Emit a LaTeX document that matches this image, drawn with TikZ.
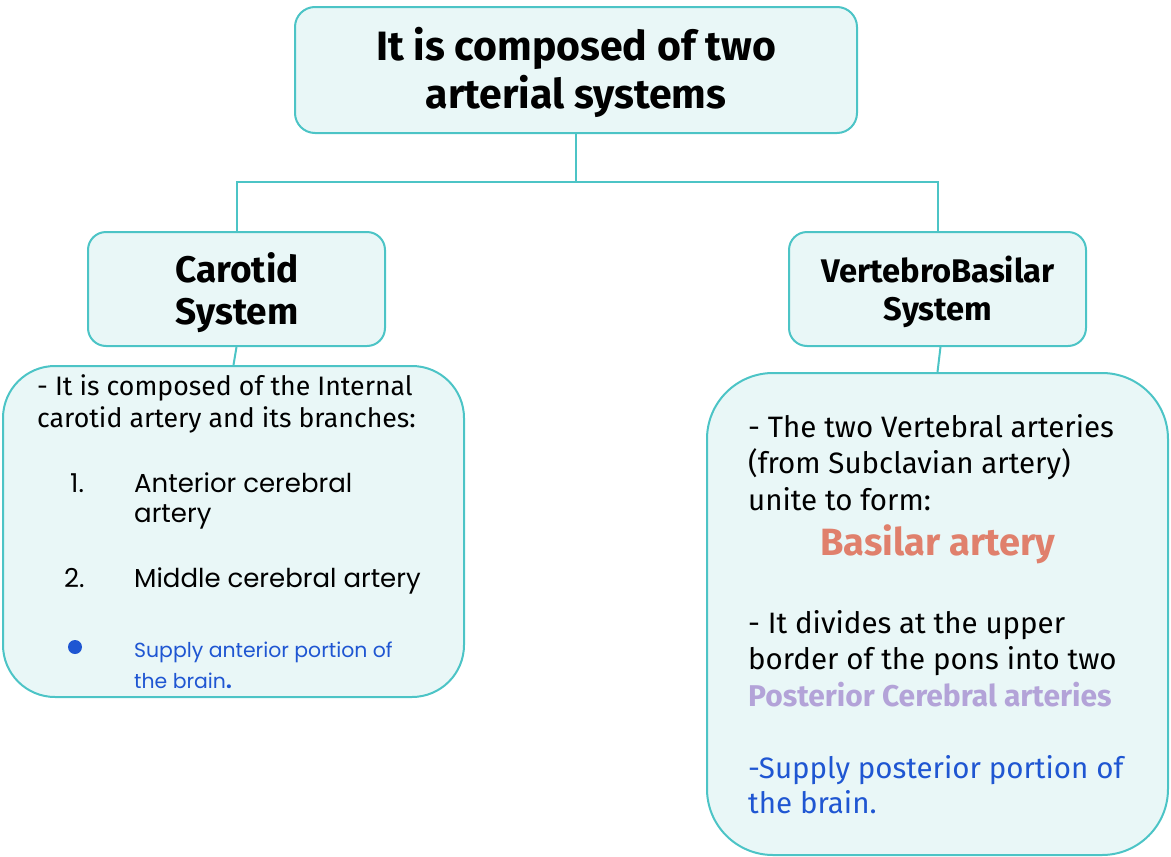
\documentclass[tikz,border=0pt]{standalone}
\usepackage{fontspec}
\setmainfont{Fira Sans}
\newfontfamily\geo{Poppins}
\definecolor{tealline}{HTML}{4CC4C6}
\definecolor{boxfill}{HTML}{E9F7F7}
\definecolor{salmon}{HTML}{E0806C}
\definecolor{lavender}{HTML}{B3A3D8}
\definecolor{bluetext}{HTML}{1F56D2}
\begin{document}
\begin{tikzpicture}[x=1pt,y=-1pt,
  box/.style={draw=tealline, line width=2pt, fill=boxfill, inner sep=0pt},
  conn/.style={draw=tealline, line width=2pt},
  ln/.style={anchor=base west, inner sep=0pt},
  cn/.style={anchor=base, inner sep=0pt},
  titlefont/.style={font=\fontsize{41}{48}\selectfont\bfseries},
  headfont/.style={font=\fontsize{37}{44}\selectfont\bfseries},
  vbfont/.style={font=\fontsize{32.7}{38}\selectfont\bfseries},
  lbody/.style={font=\fontsize{26.7}{32}\selectfont},
  rbody/.style={font=\fontsize{29.5}{36}\selectfont},
  gbody/.style={font=\geo\fontsize{26}{30}\selectfont},
  gsmall/.style={font=\geo\fontsize{20.4}{24}\selectfont, text=bluetext}
]
\useasboundingbox (0,0) rectangle (1171,857);

% boxes
\node[box, rounded corners=20pt, minimum width=562pt, minimum height=126pt] (title) at (576,70) {};
\node[box, rounded corners=18pt, minimum width=297pt, minimum height=114pt] (carotid) at (236.5,289) {};
\node[box, rounded corners=18pt, minimum width=297pt, minimum height=114pt] (vb) at (937.5,289) {};
\node[box, rounded corners=52pt, minimum width=461pt, minimum height=331pt] (lbox) at (233.5,531.5) {};
\node[box, rounded corners=66pt, minimum width=461pt, minimum height=482pt] (rbox) at (937.5,614) {};

% connectors
\coordinate (junction) at (576,182);
\draw[conn] (title.south) -- (junction);
\draw[conn] (junction) -| (carotid.north);
\draw[conn] (junction) -| (vb.north);
\draw[conn] (carotid.south) -- (lbox.north);
\draw[conn] ([xshift=3pt]vb.south) -- (rbox.north);

% title text
\node[cn, titlefont] (t1) at (576,60) {It is composed of two};
\node[cn, titlefont] (t2) at (576,108) {arterial systems};

% headings
\node[cn, headfont] (c1) at (237,282) {Carotid};
\node[cn, headfont] (c2) at (237,324) {System};
\node[cn, vbfont] (v1) at (938,282) {VertebroBasilar};
\node[cn, vbfont] (v2) at (938,320) {System};

% left box text
\node[ln, lbody] (l1) at (37,395) {- It is composed of the Internal};
\node[ln, lbody] (l2) at (37,427) {carotid artery and its branches:};
\node[ln, gbody] (n1) at (70,492) {1.};
\node[ln, gbody] (a1) at (134,492) {Anterior cerebral};
\node[ln, gbody] (a2) at (134,522) {artery};
\node[ln, gbody] (n2) at (64,587) {2.};
\node[ln, gbody] (m1) at (134,587) {Middle cerebral artery};
\fill[bluetext] (75,647) circle (7pt);
\node[ln, gsmall] (s1) at (134,657) {Supply anterior portion of};
\node[ln, gsmall] (s2) at (134,688) {the brain\textbf{.}};

% right box text
\node[ln, rbody] (r1) at (748,437) {- The two Vertebral arteries};
\node[ln, rbody] (r2) at (748,473) {(from Subclavian artery)};
\node[ln, rbody] (r3) at (748,510) {unite to form:};
\node[cn, font=\fontsize{38}{44}\selectfont\bfseries, text=salmon] (ba) at (938,555) {Basilar artery};
\node[ln, rbody] (r4) at (748,633) {- It divides at the upper};
\node[ln, rbody] (r5) at (748,669) {border of the pons into two};
\node[ln, font=\fontsize{30}{36}\selectfont\bfseries, text=lavender] (r6) at (748,706) {Posterior Cerebral arteries};
\node[ln, rbody, text=bluetext] (r7) at (748,778) {-Supply posterior portion of};
\node[ln, rbody, text=bluetext] (r8) at (748,813) {the brain.};
\end{tikzpicture}
\end{document}
